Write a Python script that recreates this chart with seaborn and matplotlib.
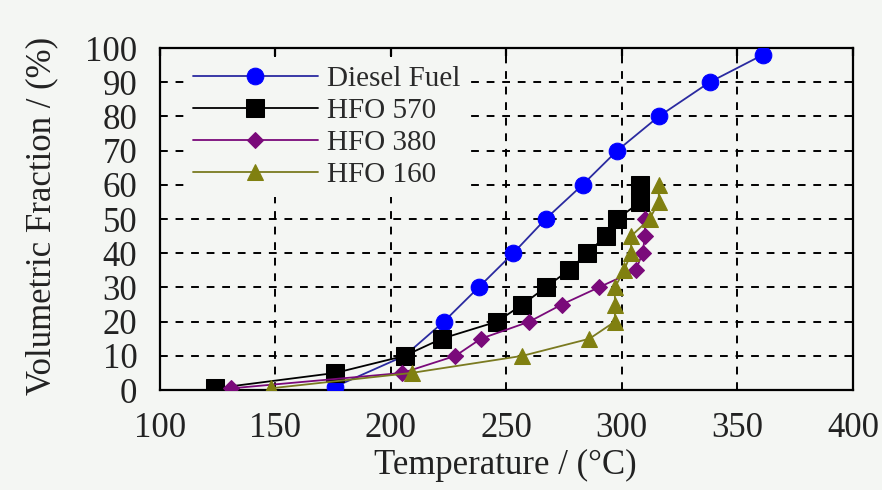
import matplotlib
matplotlib.use("Agg")
import matplotlib.pyplot as plt
import seaborn as sns
import pandas as pd
from matplotlib.ticker import MultipleLocator

# ---- data ----
diesel_t = [176, 206, 223, 238, 253, 267, 283, 298, 316, 338, 361]
diesel_v = [1, 10, 20, 30, 40, 50, 60, 70, 80, 90, 98]

hfo570_t = [124, 176, 206, 222, 246, 257, 267, 277, 285, 293, 298, 308, 308]
hfo570_v = [0.5, 5, 10, 15, 20, 25, 30, 35, 40, 45, 50, 55, 60]

hfo380_t = [131, 205, 228, 239, 260, 274, 290, 306, 309, 310, 310]
hfo380_v = [0.5, 5, 10, 15, 20, 25, 30, 35, 40, 45, 50]

hfo160_t = [148, 209, 257, 286, 297, 297, 297, 301, 304, 304, 312, 316, 316]
hfo160_v = [0.5, 5, 10, 15, 20, 25, 30, 35, 40, 45, 50, 55, 60]

labels = ["Diesel Fuel", "HFO 570", "HFO 380", "HFO 160"]
x_ticks = [100, 150, 200, 250, 300, 350, 400]
y_ticks = [0, 10, 20, 30, 40, 50, 60, 70, 80, 90, 100]

series = [
    (labels[0], diesel_t, diesel_v, "#0000ff", "#2a2aa0", "o", 12),
    (labels[1], hfo570_t, hfo570_v, "#000000", "#000000", "s", 13),
    (labels[2], hfo380_t, hfo380_v, "#7a0a7a", "#7a0a7a", "D", 8),
    (labels[3], hfo160_t, hfo160_v, "#808010", "#7a7a20", "^", 12),
]

bg = "#f4f6f3"
sns.set_theme(style="white")
plt.rcParams["font.family"] = ["Liberation Serif", "DejaVu Serif"]

fig = plt.figure(figsize=(8.82, 4.90), dpi=100, facecolor=bg)
ax = fig.add_axes([0.181, 0.204, 0.786, 0.698])
ax.set_facecolor(bg)

for name, t, v, mc, lc, mk, ms in series:
    df = pd.DataFrame({"T": t, "V": v})
    sns.lineplot(data=df, x="T", y="V", ax=ax, sort=False, estimator=None,
                 color=lc, linewidth=1.3, marker=mk, markersize=ms,
                 markerfacecolor=mc, markeredgecolor=mc, label=name, zorder=3)

ax.set_xlim(100, 400)
ax.set_ylim(0, 100)
ax.set_xticks(x_ticks)
ax.set_yticks(y_ticks)
ax.xaxis.set_minor_locator(MultipleLocator(25))
ax.yaxis.set_minor_locator(MultipleLocator(5))

ax.grid(True, which="major", color="black", linestyle=(0, (4, 4)), linewidth=1.4, zorder=1)
ax.set_axisbelow(True)

for s in ax.spines.values():
    s.set_color("black")
    s.set_linewidth(1.6)
    s.set_visible(True)

ax.tick_params(axis="both", which="major", direction="out", length=13, width=1.6,
               labelsize=25, labelcolor="#222222", color="black", pad=3)
ax.tick_params(axis="both", which="minor", direction="out", length=7, width=1.6,
               color="black")
ax.xaxis.set_tick_params(which="major", top=True)
for tk in ax.xaxis.get_major_ticks():
    tk.tick2line.set_marker(3)
    tk.tick2line.set_markersize(6)

ax.set_xlabel("Temperature / (°C)", fontsize=25, color="#222222", va="center")
ax.set_ylabel("Volumetric Fraction / (%)", fontsize=25, color="#222222", va="center")
ax.xaxis.set_label_coords(0.498, -0.22)
ax.yaxis.set_label_coords(-0.17, 0.51)

leg = ax.legend(loc="upper left", bbox_to_anchor=(0.035, 0.975), borderaxespad=0,
                fontsize=21, handlelength=4.3, handletextpad=0.3, labelspacing=0.2,
                frameon=True, facecolor=bg, edgecolor=bg, framealpha=1.0,
                borderpad=0.3, numpoints=1)
leg.get_frame().set_linewidth(0)
for txt in leg.get_texts():
    txt.set_color("#2a2a2a")

fig.savefig("out.png", dpi=100, facecolor=bg)
